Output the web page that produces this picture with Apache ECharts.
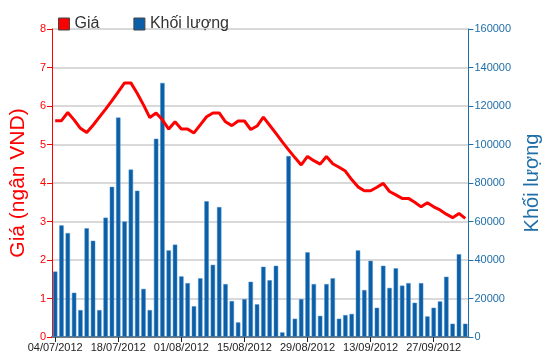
<!DOCTYPE html>
<html>
<head>
<meta charset="utf-8">
<script src="https://cdn.jsdelivr.net/npm/echarts@6/dist/echarts.min.js"></script>
<style>html,body{margin:0;padding:0;background:#fff;}#c{width:550px;height:364px;}</style>
</head>
<body>
<div id="c"></div>
<script>
const dates = [
'04/07/2012','05/07/2012','06/07/2012','09/07/2012','10/07/2012','11/07/2012','12/07/2012','13/07/2012','16/07/2012','17/07/2012',
'18/07/2012','19/07/2012','20/07/2012','23/07/2012','24/07/2012','25/07/2012','26/07/2012','27/07/2012','30/07/2012','31/07/2012',
'01/08/2012','02/08/2012','03/08/2012','06/08/2012','07/08/2012','08/08/2012','09/08/2012','10/08/2012','13/08/2012','14/08/2012',
'15/08/2012','16/08/2012','17/08/2012','20/08/2012','21/08/2012','22/08/2012','23/08/2012','24/08/2012','27/08/2012','28/08/2012',
'29/08/2012','30/08/2012','31/08/2012','04/09/2012','05/09/2012','06/09/2012','07/09/2012','10/09/2012','11/09/2012','12/09/2012',
'13/09/2012','14/09/2012','17/09/2012','18/09/2012','19/09/2012','20/09/2012','21/09/2012','24/09/2012','25/09/2012','26/09/2012',
'27/09/2012','28/09/2012','01/10/2012','02/10/2012','03/10/2012','04/10/2012'
];
const price = [
5.62,5.62,5.83,5.64,5.42,5.31,5.50,5.71,5.92,6.14,
6.37,6.60,6.60,6.33,6.03,5.70,5.82,5.64,5.40,5.59,
5.40,5.40,5.30,5.51,5.72,5.82,5.82,5.59,5.49,5.61,
5.61,5.39,5.48,5.71,5.50,5.29,5.07,4.86,4.66,4.47,
4.69,4.58,4.49,4.69,4.50,4.41,4.31,4.09,3.90,3.80,
3.80,3.89,3.99,3.78,3.69,3.60,3.60,3.50,3.38,3.49,
3.38,3.30,3.19,3.10,3.21,3.08
];
const volume = [
34000,58000,54000,23000,14000,56500,50000,14000,62000,78000,
114000,60000,87000,76000,25000,14000,103000,132000,45000,48000,
31500,28000,16000,30500,70500,37500,67500,27500,18700,7600,
19700,28700,17000,36500,29500,37000,2400,94000,9500,19700,
44000,27500,11000,27500,30500,9500,11400,12000,45000,24400,
39600,15200,37000,25500,35700,26700,28000,17800,28000,10700,
15200,18500,31300,6900,43000,6900
];
const priceTicks = [0,1,2,3,4,5,6,7,8];
const volumeTicks = [0,20000,40000,60000,80000,100000,120000,140000,160000];

const RED = '#ff0000';
const BLUE = '#0a5fa6';
const AXBLUE = '#1f6ea8';
const FONT = 'Liberation Sans, Arial, sans-serif';

const chart = echarts.init(document.getElementById('c'));
chart.setOption({
  animation: false,
  textStyle: {fontFamily: FONT},
  legend: {
    left: 53, top: 11,
    itemWidth: 11, itemHeight: 12, itemGap: 34,
    textStyle: {fontSize: 16, color: '#333', fontFamily: FONT},
    data: [
      {name: 'Giá', icon: 'rect', itemStyle: {color: RED, borderColor: '#444', borderWidth: 1}},
      {name: 'Khối lượng', icon: 'rect', itemStyle: {color: BLUE, borderColor: '#444', borderWidth: 1}}
    ]
  },
  grid: {left: 46, right: 79, top: 29, bottom: 27},
  xAxis: [{
    type: 'category', data: dates, boundaryGap: true,
    axisLine: {lineStyle: {color: '#222', width: 1.5}},
    axisTick: {show: true, interval: 9, alignWithLabel: true, length: 5, lineStyle: {color: '#222'}},
    axisLabel: {interval: 9, fontSize: 11, color: '#222', margin: 5, fontFamily: FONT}
  }, {
    type: 'category', data: dates, position: 'top',
    axisLine: {lineStyle: {color: '#777', width: 2}},
    axisTick: {show: false}, axisLabel: {show: false}
  }],
  yAxis: [{
    type: 'value', min: 0, max: 8, interval: 1, position: 'left',
    name: 'Giá (ngân VND)', nameLocation: 'middle', nameGap: 16, nameRotate: 90,
    nameTextStyle: {color: RED, fontSize: 21, fontFamily: FONT},
    axisLine: {show: true, lineStyle: {color: RED, width: 1}},
    axisTick: {show: true, length: 5, lineStyle: {color: RED}},
    axisLabel: {color: RED, fontSize: 11, margin: 6,
      formatter: v => priceTicks.includes(v) ? String(v) : ''},
    splitLine: {show: true, lineStyle: {color: '#cccccc', width: 1.5}}
  }, {
    type: 'value', min: 0, max: 160000, interval: 20000, position: 'right',
    name: 'Khối lượng', nameLocation: 'middle', nameGap: 47, nameRotate: 90,
    nameTextStyle: {color: AXBLUE, fontSize: 20, fontFamily: FONT},
    axisLine: {show: true, lineStyle: {color: AXBLUE, width: 1}},
    axisTick: {show: true, length: 5, lineStyle: {color: AXBLUE}},
    axisLabel: {color: AXBLUE, fontSize: 11, margin: 6,
      formatter: v => volumeTicks.includes(v) ? String(v) : ''},
    splitLine: {show: false}
  }],
  series: [{
    name: 'Khối lượng', type: 'bar', xAxisIndex: 0, yAxisIndex: 1, data: volume,
    barWidth: '70%',
    itemStyle: {color: BLUE, borderColor: '#4d8fcc', borderWidth: 0.5}
  }, {
    name: 'Giá', type: 'line', xAxisIndex: 0, yAxisIndex: 0, data: price,
    symbol: 'none', z: 5,
    lineStyle: {color: RED, width: 3},
    itemStyle: {color: RED}
  }]
});
</script>
</body>
</html>
